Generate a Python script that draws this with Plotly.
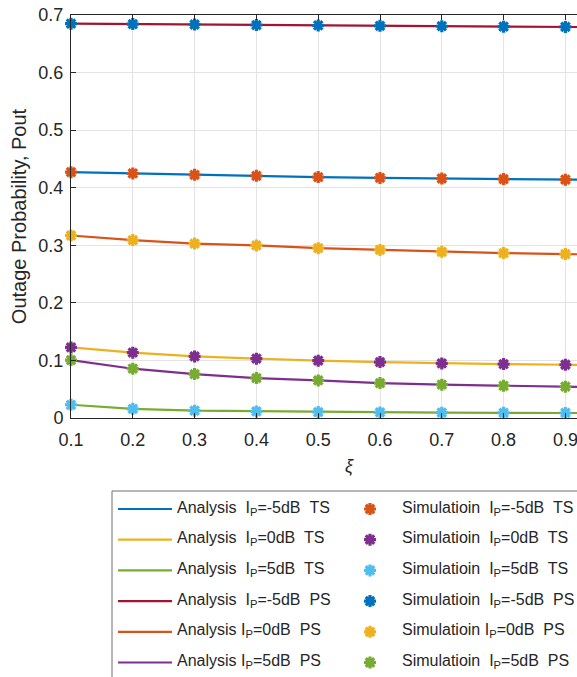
import plotly.graph_objects as go

# Power-splitting factor / time-switching ratio
xi = [0.1, 0.2, 0.3, 0.4, 0.5, 0.6, 0.7, 0.8, 0.9, 1.0]

# Analytical outage probability
ana_m5_ts = [0.427, 0.4247, 0.4224, 0.4207, 0.4184, 0.4170, 0.4160, 0.4150, 0.4140, 0.4132]
ana_0_ts = [0.1226, 0.1134, 0.1070, 0.1030, 0.0995, 0.0972, 0.0948, 0.0937, 0.0925, 0.0915]
ana_5_ts = [0.0230, 0.0160, 0.0127, 0.0115, 0.0104, 0.0097, 0.0092, 0.0090, 0.0087, 0.0085]
ana_m5_ps = [0.685, 0.6843, 0.6835, 0.6826, 0.6818, 0.6812, 0.6805, 0.6798, 0.6792, 0.6786]
ana_0_ps = [0.3170, 0.3090, 0.3030, 0.2997, 0.2950, 0.2920, 0.2887, 0.2865, 0.2847, 0.2830]
ana_5_ps = [0.1007, 0.0856, 0.0763, 0.0694, 0.0653, 0.0607, 0.0578, 0.0560, 0.0543, 0.0528]

# Monte-Carlo simulation results
sim_m5_ts = [0.427, 0.4247, 0.4224, 0.4207, 0.4184, 0.4170, 0.4160, 0.4150, 0.4140, 0.4132]
sim_0_ts = [0.1226, 0.1134, 0.1070, 0.1030, 0.0995, 0.0972, 0.0948, 0.0937, 0.0925, 0.0915]
sim_5_ts = [0.0230, 0.0160, 0.0127, 0.0115, 0.0104, 0.0097, 0.0092, 0.0090, 0.0087, 0.0085]
sim_m5_ps = [0.685, 0.6843, 0.6835, 0.6826, 0.6818, 0.6812, 0.6805, 0.6798, 0.6792, 0.6786]
sim_0_ps = [0.3170, 0.3090, 0.3030, 0.2997, 0.2950, 0.2920, 0.2887, 0.2865, 0.2847, 0.2830]
sim_5_ps = [0.1007, 0.0856, 0.0763, 0.0694, 0.0653, 0.0607, 0.0578, 0.0560, 0.0543, 0.0528]

x_ticks = [0.1, 0.2, 0.3, 0.4, 0.5, 0.6, 0.7, 0.8, 0.9]
y_ticks = [0, 0.1, 0.2, 0.3, 0.4, 0.5, 0.6, 0.7]

BLUE, ORANGE, YELLOW = "#0072BD", "#D95319", "#EDB120"
PURPLE, GREEN, CYAN, RED = "#7E2F8E", "#77AC30", "#4DBEEE", "#A2142F"
INK = "#262626"
FONT = "Liberation Sans, Arial, sans-serif"

S = "\u00a0"  # non-breaking space keeps the double gaps in labels
analysis = [
    (ana_m5_ts, BLUE, f"Analysis{S}{S}I<sub>P</sub>=-5dB{S}{S}TS"),
    (ana_0_ts, YELLOW, f"Analysis{S}{S}I<sub>P</sub>=0dB{S}{S}TS"),
    (ana_5_ts, GREEN, f"Analysis{S}{S}I<sub>P</sub>=5dB{S}{S}TS"),
    (ana_m5_ps, RED, f"Analysis{S}{S}I<sub>P</sub>=-5dB{S}{S}PS"),
    (ana_0_ps, ORANGE, f"Analysis{S}I<sub>P</sub>=0dB{S}{S}PS"),
    (ana_5_ps, PURPLE, f"Analysis{S}I<sub>P</sub>=5dB{S}{S}PS"),
]
simulation = [
    (sim_m5_ts, ORANGE, f"Simulatioin{S}{S}I<sub>P</sub>=-5dB{S}{S}TS"),
    (sim_0_ts, PURPLE, f"Simulatioin{S}{S}I<sub>P</sub>=0dB{S}{S}TS"),
    (sim_5_ts, CYAN, f"Simulatioin{S}{S}I<sub>P</sub>=5dB{S}{S}TS"),
    (sim_m5_ps, BLUE, f"Simulatioin{S}{S}I<sub>P</sub>=-5dB{S}{S}PS"),
    (sim_0_ps, YELLOW, f"Simulatioin{S}I<sub>P</sub>=0dB{S}{S}PS"),
    (sim_5_ps, GREEN, f"Simulatioin{S}{S}I<sub>P</sub>=5dB{S}{S}PS"),
]

W, H = 577, 677
# axes box in pixels
AX_L, AX_R, AX_T, AX_B = 71, 577, 15, 418
X0 = 0.1
PX_PER_UNIT = 618.0  # horizontal scale of the xi axis
x_max = X0 + (AX_R - AX_L) / PX_PER_UNIT


def star(color):
    return dict(color=color, symbol="asterisk-open", size=10,
                line=dict(width=3.2, color=color))


fig = go.Figure()

for ys, color, name in analysis:
    fig.add_trace(go.Scatter(x=xi, y=ys, mode="lines", name=name,
                             line=dict(color=color, width=2.2),
                             showlegend=False))
for ys, color, name in simulation:
    fig.add_trace(go.Scatter(x=xi[:-1], y=ys[:-1], mode="markers", name=name,
                             marker=star(color), cliponaxis=False, showlegend=False))

# ---- hand-built two-column legend on a pixel-space overlay ----
LEG_BOX_L, LEG_BOX_T = 112, 491
ROW0, ROW_PITCH = 509, 30.7
SW_X0, SW_X1, TXT1_X = 118, 172, 175
MK_X, TXT2_X = 370, 400
rows = [ROW0 + i * ROW_PITCH for i in range(len(analysis))]

for (ys, color, name), ry in zip(analysis, rows):
    fig.add_trace(go.Scatter(x=[SW_X0, SW_X1], y=[ry, ry], mode="lines",
                             line=dict(color=color, width=2.2),
                             xaxis="x2", yaxis="y2", showlegend=False, hoverinfo="skip"))
for (ys, color, name), ry in zip(simulation, rows):
    fig.add_trace(go.Scatter(x=[MK_X], y=[ry], mode="markers", marker=star(color),
                             xaxis="x2", yaxis="y2", showlegend=False, hoverinfo="skip",
                             cliponaxis=False))

annotations = []
for (ys, color, name), ry in zip(analysis, rows):
    annotations.append(dict(x=TXT1_X, y=ry - 1, xref="x2", yref="y2", text=name,
                            showarrow=False, xanchor="left", yanchor="middle",
                            font=dict(family=FONT, size=16, color=INK)))
for (ys, color, name), ry in zip(simulation, rows):
    annotations.append(dict(x=TXT2_X, y=ry - 1, xref="x2", yref="y2", text=name,
                            showarrow=False, xanchor="left", yanchor="middle",
                            font=dict(family=FONT, size=16, color=INK)))

# x-axis symbol, centred on the full 0.1–1.0 axis
annotations.append(dict(x=(X0 + 1.0) / 2, y=466, xref="x", yref="y2", text="<i>ξ</i>",
                        showarrow=False, xanchor="center", yanchor="middle",
                        font=dict(family=FONT, size=18, color=INK)))

shapes = [dict(type="rect", xref="x2", yref="y2", x0=LEG_BOX_L, y0=LEG_BOX_T,
               x1=W + 20, y1=H + 20, line=dict(color="#6e6e6e", width=1),
               fillcolor="rgba(0,0,0,0)", layer="below")]

axis_common = dict(showgrid=True, gridcolor="#e3e3e3", gridwidth=1,
                   showline=True, linecolor=INK, linewidth=1,
                   ticks="inside", ticklen=5, tickcolor=INK, zeroline=False,
                   ticklabeloverflow="allow",
                   tickfont=dict(family=FONT, size=18, color=INK))

fig.update_layout(
    width=W, height=H,
    margin=dict(l=0, r=0, t=0, b=0, autoexpand=False),
    paper_bgcolor="white", plot_bgcolor="rgba(0,0,0,0)",
    xaxis=dict(domain=[AX_L / W, AX_R / W], range=[X0, x_max],
               tickvals=x_ticks, ticktext=[f"{v:.1f}" for v in x_ticks],
               mirror="ticks", anchor="y", ticklabelstandoff=5, **axis_common),
    yaxis=dict(domain=[(H - AX_B) / H, (H - AX_T) / H], range=[0, 0.7],
               tickvals=y_ticks, ticktext=["0"] + [f"{v:.1f}" for v in y_ticks[1:]],
               anchor="x", ticklabelstandoff=3,
               title=dict(text="Outage Probability, Pout", standoff=6,
                          font=dict(family=FONT, size=20, color=INK)),
               **axis_common),
    xaxis2=dict(domain=[0, 1], range=[0, W], visible=False, fixedrange=True, anchor="y2"),
    yaxis2=dict(domain=[0, 1], range=[H, 0], visible=False, fixedrange=True, anchor="x2"),
    annotations=annotations,
    shapes=shapes,
    showlegend=False,
)

fig.write_html("out.html")
